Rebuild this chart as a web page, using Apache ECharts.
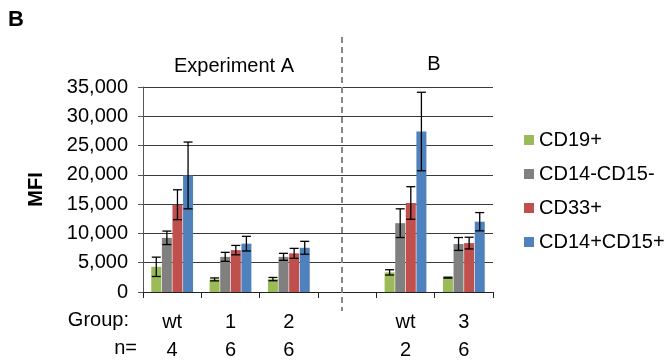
<!DOCTYPE html>
<html>
<head>
<meta charset="utf-8">
<script src="https://cdn.jsdelivr.net/npm/echarts@6/dist/echarts.min.js"></script>
<style>
  html, body { margin: 0; padding: 0; background: #fff; }
  #chart { width: 664px; height: 360px; }
</style>
</head>
<body>
<div id="chart"></div>
<script>
// Groups along the x axis (the empty slot separates the two experiments)
const categories = ['wt', '1', '2', '', 'wt', '3'];
const sampleSizes = ['4', '6', '6', '', '2', '6'];
const seriesNames = ['CD19+', 'CD14-CD15-', 'CD33+', 'CD14+CD15+'];

// Mean fluorescence intensity per group, with error (±)
const cd19 = [4300, 2150, 2200, null, 3350, 2450];
const cd19Err = [1650, 250, 280, null, 450, 80];
const cd14neg15neg = [9250, 6000, 6000, null, 11750, 8200];
const cd14neg15negErr = [1150, 770, 600, null, 2450, 1100];
const cd33 = [14900, 7150, 6600, null, 15200, 8350];
const cd33Err = [2550, 800, 850, null, 2780, 1000];
const cd14pos15pos = [19900, 8250, 7550, null, 27400, 12000];
const cd14pos15posErr = [5700, 1250, 1100, null, 6700, 1560];

const yMin = 0, yMax = 35000, yStep = 5000;

const means = [cd19, cd14neg15neg, cd33, cd14pos15pos];
const errors = [cd19Err, cd14neg15negErr, cd33Err, cd14pos15posErr];
const colors = ['#9BBB59', '#808080', '#C0504D', '#4F81BD'];

const FONT = '"Liberation Sans", Arial, sans-serif';
const FS = 20;
const BAR_W = 10;
const BAR_GAP = 0.06;   // fraction of bar width between neighbouring bars

const chart = echarts.init(document.getElementById('chart'), null, { renderer: 'canvas' });

const barSeries = seriesNames.map((name, i) => ({
  name: name,
  type: 'bar',
  data: means[i],
  barWidth: BAR_W,
  barGap: (BAR_GAP * 100) + '%',
  itemStyle: { color: colors[i] },
  z: 2
}));

// Error bars: one custom series per marker, placed over its bar
const errSeries = seriesNames.map((name, i) => ({
  type: 'custom',
  name: name + ' err',
  z: 5,
  silent: true,
  data: means[i].map((m, k) => m == null ? null : [k, m - errors[i][k], m + errors[i][k]]).filter(d => d),
  encode: { x: 0, y: [1, 2] },
  renderItem: function (params, api) {
    const idx = api.value(0);
    const pitch = BAR_W * (1 + BAR_GAP);
    const offset = (i - (seriesNames.length - 1) / 2) * pitch;
    const lo = api.coord([idx, api.value(1)]);
    const hi = api.coord([idx, api.value(2)]);
    const x = lo[0] + offset;
    const cap = 4.5;
    const style = { stroke: '#000', lineWidth: 1.3 };
    return {
      type: 'group',
      children: [
        { type: 'line', shape: { x1: x, y1: lo[1], x2: x, y2: hi[1] }, style: style },
        { type: 'line', shape: { x1: x - cap, y1: hi[1], x2: x + cap, y2: hi[1] }, style: style },
        { type: 'line', shape: { x1: x - cap, y1: lo[1], x2: x + cap, y2: lo[1] }, style: style }
      ]
    };
  }
}));

const option = {
  animation: false,
  textStyle: { fontFamily: FONT },
  grid: { left: 143, right: 171, top: 87, bottom: 67 },
  legend: {
    data: seriesNames,
    orient: 'vertical',
    left: 519,
    top: 125,
    itemWidth: 10,
    itemHeight: 10,
    itemGap: 14,
    icon: 'rect',
    textStyle: { fontFamily: FONT, fontSize: FS, color: '#000', lineHeight: 20 }
  },
  xAxis: {
    type: 'category',
    data: categories,
    boundaryGap: true,
    axisLine: { lineStyle: { color: '#222', width: 1 } },
    axisTick: { show: true, length: 6, lineStyle: { color: '#222' } },
    axisLabel: {
      interval: 0,
      margin: 16,
      formatter: (v, k) => '{a|' + v + '}\n{b|' + sampleSizes[k] + '}',
      rich: {
        a: { fontFamily: FONT, fontSize: FS, color: '#000', lineHeight: 28 },
        b: { fontFamily: FONT, fontSize: FS, color: '#000', lineHeight: 28 }
      }
    }
  },
  yAxis: {
    type: 'value',
    min: yMin,
    max: yMax,
    interval: yStep,
    name: 'MFI',
    nameLocation: 'middle',
    nameGap: 97,
    nameRotate: 90,
    nameTextStyle: { fontFamily: FONT, fontSize: FS, fontWeight: 'bold', color: '#000' },
    axisLine: { show: true, lineStyle: { color: '#555', width: 1 } },
    axisTick: { show: true, length: 5, lineStyle: { color: '#555' } },
    splitLine: { show: true, lineStyle: { color: '#3a3a3a', width: 1 } },
    axisLabel: {
      margin: 15,
      fontFamily: FONT,
      fontSize: FS,
      color: '#000',
      formatter: v => v.toLocaleString('en-US')
    }
  },
  graphic: [
    { type: 'text', left: 8, top: 9, style: { text: 'B', fontFamily: FONT, fontSize: 22, fontWeight: 'bold', fill: '#000' } },
    { type: 'text', x: 234, y: 66, style: { text: 'Experiment A', fontFamily: FONT, fontSize: FS, fill: '#000', align: 'center', verticalAlign: 'middle' } },
    { type: 'text', x: 434, y: 64, style: { text: 'B', fontFamily: FONT, fontSize: FS, fill: '#000', align: 'center', verticalAlign: 'middle' } },
    { type: 'text', x: 129, y: 320, style: { text: 'Group:', fontFamily: FONT, fontSize: FS, fill: '#000', align: 'right', verticalAlign: 'middle' } },
    { type: 'text', x: 137, y: 348, style: { text: 'n=', fontFamily: FONT, fontSize: FS, fill: '#000', align: 'right', verticalAlign: 'middle' } },
    { type: 'line', shape: { x1: 342, y1: 37, x2: 342, y2: 311 }, style: { stroke: '#888', lineWidth: 2, lineDash: [6, 4] }, z: 10 }
  ],
  series: barSeries.concat(errSeries)
};

chart.setOption(option);
</script>
</body>
</html>
